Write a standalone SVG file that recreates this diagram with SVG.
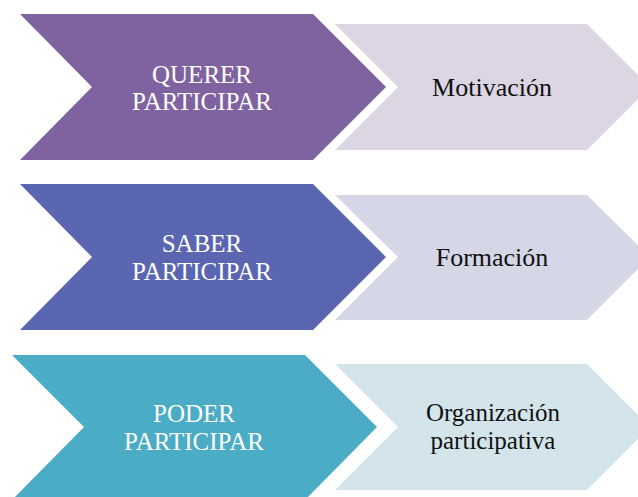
<svg xmlns="http://www.w3.org/2000/svg" width="638" height="497" viewBox="0 0 638 497">
<style>
.w{font-family:"Liberation Serif","Times New Roman",serif;font-size:25px;fill:#fff;text-anchor:middle}
.d{font-family:"Liberation Serif","Times New Roman",serif;font-size:26px;fill:#111;text-anchor:middle}
.d2{font-family:"Liberation Serif","Times New Roman",serif;font-size:25px;fill:#111;text-anchor:middle}
</style>
<rect width="638" height="497" fill="#fff"/>
<g id="row1">
<g id="motivacion">
<polygon points="335,24 587,24 650,87 587,150 335,150 398,87" fill="#DCD6E4"/>
<text class="d" x="492" y="96">Motivación</text>
</g>
<g id="querer">
<polygon points="20,14 313,14 386,87 313,160 20,160 92,87" fill="#7F63A1"/>
<text class="w" x="202" y="83">QUERER</text>
<text class="w" x="202" y="110">PARTICIPAR</text>
</g>
</g>
<g id="row2">
<g id="formacion">
<polygon points="335,195 587,195 650,257 587,320 335,320 398,257" fill="#D5D7E7"/>
<text class="d" x="492" y="266">Formación</text>
</g>
<g id="saber">
<polygon points="20,184 313,184 386,257 313,330 20,330 92,257" fill="#5A66B2"/>
<text class="w" x="202" y="252">SABER</text>
<text class="w" x="202" y="280">PARTICIPAR</text>
</g>
</g>
<g id="row3">
<g id="organizacion">
<polygon points="335,364 587,364 650,427 587,490 335,490 398,427" fill="#D3E4EB"/>
<text class="d2" x="493" y="421">Organización</text>
<text class="d2" x="493" y="449">participativa</text>
</g>
<g id="poder">
<polygon points="12,355 305,355 377,427 305,500 12,500 84,427" fill="#4BACC6"/>
<text class="w" x="194" y="422">PODER</text>
<text class="w" x="194" y="450">PARTICIPAR</text>
</g>
</g>
<g id="connectors"/>
</svg>
